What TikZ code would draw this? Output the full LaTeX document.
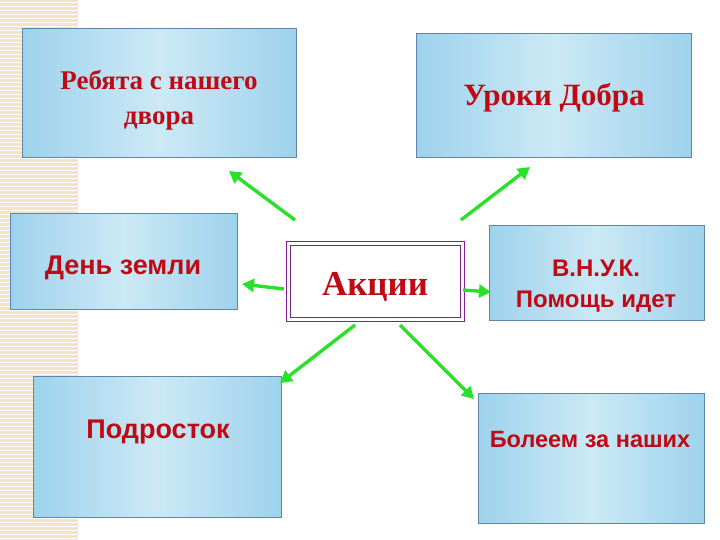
\documentclass[tikz,border=0pt]{standalone}
\usetikzlibrary{arrows.meta}
\usepackage{fontspec}
\setmainfont{Liberation Serif}
\newfontfamily\sansf{Liberation Sans}
\definecolor{boxblue}{RGB}{158,210,236}
\definecolor{boxlight}{RGB}{204,233,245}
\definecolor{boxline}{RGB}{95,135,165}
\definecolor{txtred}{RGB}{190,10,20}
\definecolor{arr}{RGB}{40,225,40}
\definecolor{beige}{RGB}{242,228,196}
\definecolor{purp}{RGB}{130,30,150}
\begin{document}
\begin{tikzpicture}[x=1pt,y=-1pt,
  bx/.style={draw=boxline,line width=0.8pt,left color=boxblue,right color=boxblue,middle color=boxlight,anchor=north west,inner sep=0pt},
  tx/.style={text=txtred,align=center,inner sep=0pt},
  ar/.style={draw=arr,line width=3.4pt,-{Triangle[length=12pt,width=13pt]}}]
\useasboundingbox (0,0) rectangle (720,540);
\fill[white] (0,0) rectangle (720,540);
\fill[beige] (0,0) rectangle (78,540);
\foreach \yy in {2,6,...,538} \draw[white,line width=0.6pt] (0,\yy) -- (78,\yy);
\node[bx,minimum width=274pt,minimum height=129pt] (b1) at (22,28) {};
\node[bx,minimum width=275pt,minimum height=124pt] (b2) at (416,33) {};
\node[bx,minimum width=227pt,minimum height=96pt] (b3) at (10,213) {};
\node[draw=purp,line width=1.2pt,double=white,double distance=2.5pt,fill=white,minimum width=174pt,minimum height=76pt,anchor=north west] (c) at (288,243) {};
\node[bx,minimum width=215pt,minimum height=95pt] (b5) at (489,225) {};
\node[bx,minimum width=248pt,minimum height=141pt] (b6) at (33,376) {};
\node[bx,minimum width=226pt,minimum height=130pt] (b7) at (478,393) {};
\node[tx,font=\bfseries\fontsize{27}{35}\selectfont] (t1) at (159,100) {Ребята с нашего\\двора};
\node[tx,font=\bfseries\fontsize{31}{36}\selectfont] (t2) at (554,98) {Уроки Добра};
\node[tx,font=\sansf\bfseries\fontsize{27}{32}\selectfont] (t3) at (123,268) {День земли};
\node[tx,font=\bfseries\fontsize{35}{40}\selectfont] (tc) at (375,287) {Акции};
\node[tx,font=\sansf\bfseries\fontsize{24}{31}\selectfont] (t5) at (596,286) {В.Н.У.К.\\Помощь идет};
\node[tx,font=\sansf\bfseries\fontsize{27}{32}\selectfont] (t6) at (158,432) {Подросток};
\node[tx,font=\sansf\bfseries\fontsize{23.5}{28}\selectfont] (t7) at (590,440) {Болеем за наших};
\coordinate (s1) at (295,220); \coordinate (e1) at (229,171);
\coordinate (s2) at (461,220); \coordinate (e2) at (530,167);
\coordinate (s3) at (284,289); \coordinate (e3) at (242,284);
\coordinate (s5) at (463,290); \coordinate (e5) at (491,292);
\coordinate (s6) at (355,325); \coordinate (e6) at (280,383);
\coordinate (s7) at (400,325); \coordinate (e7) at (474,399);
\draw[ar] (s1) -- (e1);
\draw[ar] (s2) -- (e2);
\draw[ar] (s3) -- (e3);
\draw[ar] (s5) -- (e5);
\draw[ar] (s6) -- (e6);
\draw[ar] (s7) -- (e7);
\end{tikzpicture}
\end{document}
